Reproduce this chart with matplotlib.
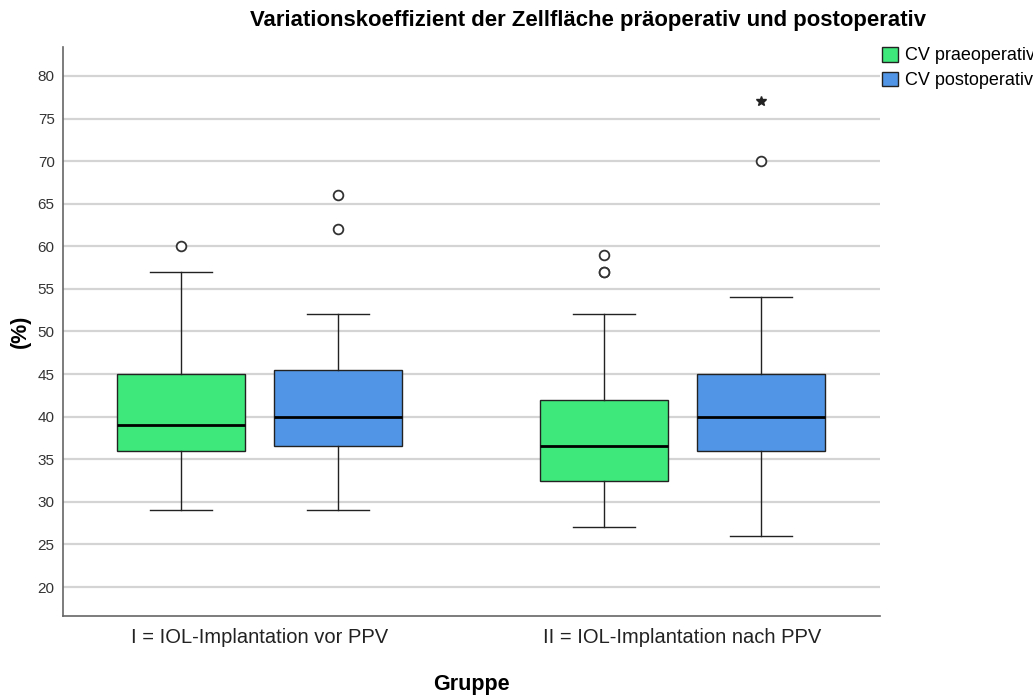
#!/usr/bin/env python3

import numpy as np
import matplotlib.pyplot as plt
from matplotlib.patches import Patch

plt.rcParams['font.family'] = ['Liberation Sans', 'DejaVu Sans']

groups = ["I = IOL-Implantation vor PPV", "II = IOL-Implantation nach PPV"]
series = ["CV praeoperativ", "CV postoperativ"]
colors = ['#3ee87a', '#5196e6']

# whislo, q1, med, q3, whishi per group, per series
stats_pre = [
    (29, 36, 39, 45, 57),
    (27, 32.5, 36.5, 42, 52),
]
stats_post = [
    (29, 36.5, 40, 45.5, 52),
    (26, 36, 40, 45, 54),
]
outliers_pre = [[60], [57, 57, 59]]
outliers_post = [[62, 66], [70]]
extremes_pre = [[], []]
extremes_post = [[], [77]]

yticks = [20, 25, 30, 35, 40, 45, 50, 55, 60, 65, 70, 75, 80]


def make_stats(vals, fl):
    out = []
    for (lo, q1, med, q3, hi), f in zip(vals, fl):
        out.append(dict(whislo=lo, q1=q1, med=med, q3=q3, whishi=hi, fliers=f))
    return out


fig = plt.figure(figsize=(10.33, 6.95), dpi=100)
ax = fig.add_axes([0.061, 0.1137, 0.791, 0.8187])

x = np.arange(len(groups))
offset = 0.1856
width = 0.3026

all_stats = [(stats_pre, outliers_pre, extremes_pre), (stats_post, outliers_post, extremes_post)]
for i, (st, fl, ex) in enumerate(all_stats):
    pos = x + (i - 0.5) * 2 * offset
    ax.bxp(make_stats(st, fl), positions=pos, widths=width, patch_artist=True,
           showfliers=True,
           boxprops=dict(facecolor=colors[i], edgecolor='#222222', linewidth=1.0),
           medianprops=dict(color='black', linewidth=2.0),
           whiskerprops=dict(color='#222222', linewidth=1.0),
           capprops=dict(color='#222222', linewidth=1.0),
           capwidths=width * 0.48,
           flierprops=dict(marker='o', markerfacecolor='white', markeredgecolor='#333333',
                           markersize=7, markeredgewidth=1.3),
           zorder=3)
    for p, e in zip(pos, ex):
        if e:
            ax.plot([p] * len(e), e, linestyle='none', marker='*', color='#222222',
                    markersize=7, zorder=4)

ax.set_xlim(-0.4645, 1.467)
ax.set_ylim(16.6, 83.4)
ax.set_yticks(yticks)
ax.set_xticks(x)
ax.set_xticklabels(groups, fontsize=14.5, color='#222222')
ax.tick_params(axis='y', labelsize=11, colors='#333333', length=0, pad=6)
ax.tick_params(axis='x', length=0, pad=9)
ax.yaxis.grid(True, color='#d4d4d4', linewidth=1.6, zorder=0)
ax.set_axisbelow(True)

for s in ['top', 'right']:
    ax.spines[s].set_visible(False)
for s in ['left', 'bottom']:
    ax.spines[s].set_color('#666666')
    ax.spines[s].set_linewidth(1.2)

ax.set_ylabel("(%)", fontsize=15.5, fontweight='bold', labelpad=5)
ax.set_xlabel("Gruppe", fontsize=15.5, fontweight='bold', labelpad=19)
fig.text(0.569, 0.970, "Variationskoeffizient der Zellfläche präoperativ und postoperativ",
         ha='center', va='center', fontsize=15.9, fontweight='bold')

handles = [Patch(facecolor=c, edgecolor='#222222', label=s) for c, s in zip(colors, series)]
fig.legend(handles=handles, loc='upper left', bbox_to_anchor=(0.854, 0.933), frameon=False,
           fontsize=13, handlelength=0.9, handleheight=0.9, handletextpad=0.35,
           labelspacing=0.4, borderaxespad=0.0, borderpad=0.0)

fig.savefig("out.png", dpi=100)
